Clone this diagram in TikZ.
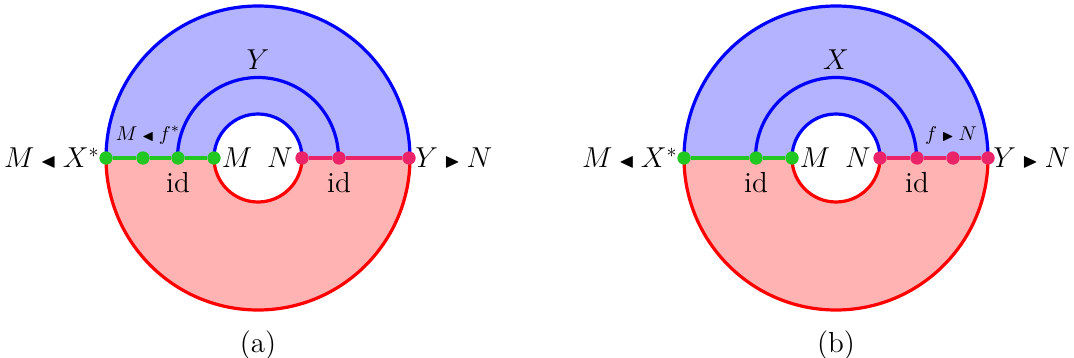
\documentclass[tikz,border=0pt]{standalone}
\usepackage{amssymb}
\usetikzlibrary{calc}
\definecolor{bfill}{RGB}{179,179,255}
\definecolor{rfill}{RGB}{255,179,179}
\definecolor{gline}{RGB}{34,200,34}
\definecolor{pline}{RGB}{235,35,105}
\newcommand{\lact}{\mathbin{\scriptstyle\blacktriangleleft}}
\newcommand{\ract}{\mathbin{\scriptstyle\blacktriangleright}}
\tikzset{
  bigl/.style={font=\fontsize{14.5}{17}\selectfont, inner sep=0pt},
  smalll/.style={font=\fontsize{10}{12}\selectfont, inner sep=0pt},
  gdot/.style={circle, fill=gline, inner sep=0pt, minimum size=6.5pt},
  pdot/.style={circle, fill=pline, inner sep=0pt, minimum size=6.5pt},
  gwire/.style={draw=gline, line width=1.6pt},
  pwire/.style={draw=pline, line width=1.6pt},
  bwire/.style={draw=blue, line width=1.6pt},
  rwire/.style={draw=red, line width=1.6pt},
}
\newcommand{\annulus}[1]{%
  \begin{scope}[shift={#1}]
    \fill[bfill] (-76pt,0) arc[start angle=180,end angle=0,radius=76pt] -- (22pt,0) arc[start angle=0,end angle=180,radius=22pt] -- cycle;
    \fill[rfill] (-76pt,0) arc[start angle=180,end angle=360,radius=76pt] -- (22pt,0) arc[start angle=360,end angle=180,radius=22pt] -- cycle;
    \draw[bwire] (-76pt,0) arc[start angle=180,end angle=0,radius=76pt];
    \draw[rwire] (-76pt,0) arc[start angle=180,end angle=360,radius=76pt];
    \draw[bwire] (-22pt,0) arc[start angle=180,end angle=0,radius=22pt];
    \draw[rwire] (-22pt,0) arc[start angle=180,end angle=360,radius=22pt];
    \draw[bwire] (-40.25pt,0) arc[start angle=180,end angle=0,radius=40.25pt];
  \end{scope}}
\begin{document}
\begin{tikzpicture}[x=0.5pt,y=-0.5pt]
\useasboundingbox (0,0) rectangle (1074,358);
% ---------- (a) ----------
\annulus{(258,158)}
\node[gdot] (a1) at (106,158) {};
\node[gdot] (a2) at (143,158) {};
\node[gdot] (a3) at (178,158) {};
\node[gdot] (a4) at (214,158) {};
\node[pdot] (a5) at (302,158) {};
\node[pdot] (a6) at (339,158) {};
\node[pdot] (a7) at (409,158) {};
\draw[gwire] (a1) -- (a2) -- (a3) -- (a4);
\draw[pwire] (a5) -- (a6) -- (a7);
\node[gdot] at (a1) {};\node[gdot] at (a2) {};\node[gdot] at (a3) {};\node[gdot] at (a4) {};
\node[pdot] at (a5) {};\node[pdot] at (a6) {};\node[pdot] at (a7) {};
\node[bigl] (aY) at (258,60) {$Y$};
\node[smalll] (amf) at (148,135) {$M \lact f^{*}$};
\node[bigl, anchor=east] (aMX) at (100,158) {$M \lact X^{*}$};
\node[bigl, anchor=west] (aYN) at (415,158) {$Y \ract N$};
\node[bigl] (aid1) at (178,183) {id};
\node[bigl] (aid2) at (339,183) {id};
\node[bigl] (aM) at (237,158) {$M$};
\node[bigl] (aN) at (280,158) {$N$};
\node[bigl] (acap) at (258,345) {(a)};
% ---------- (b) ----------
\annulus{(836,158)}
\node[gdot] (b1) at (684,158) {};
\node[gdot] (b2) at (756,158) {};
\node[gdot] (b3) at (792,158) {};
\node[pdot] (b4) at (880,158) {};
\node[pdot] (b5) at (917,158) {};
\node[pdot] (b6) at (953,158) {};
\node[pdot] (b7) at (988,158) {};
\draw[gwire] (b1) -- (b2) -- (b3);
\draw[pwire] (b4) -- (b5) -- (b6) -- (b7);
\node[gdot] at (b1) {};\node[gdot] at (b2) {};\node[gdot] at (b3) {};
\node[pdot] at (b4) {};\node[pdot] at (b5) {};\node[pdot] at (b6) {};\node[pdot] at (b7) {};
\node[bigl] (bX) at (836,60) {$X$};
\node[smalll] (bfN) at (951,135) {$f \ract N$};
\node[bigl, anchor=east] (bMX) at (678,158) {$M \lact X^{*}$};
\node[bigl, anchor=west] (bYN) at (993,158) {$Y \ract N$};
\node[bigl] (bid1) at (756,183) {id};
\node[bigl] (bid2) at (917,183) {id};
\node[bigl] (bM) at (815,158) {$M$};
\node[bigl] (bN) at (858,158) {$N$};
\node[bigl] (bcap) at (836,345) {(b)};
\end{tikzpicture}
\end{document}
